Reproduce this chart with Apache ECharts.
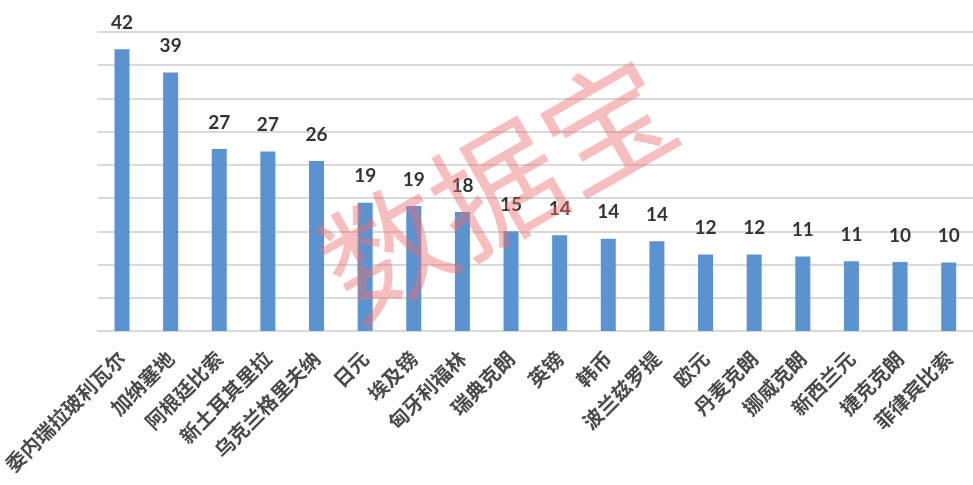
<!DOCTYPE html>
<html>
<head>
<meta charset="utf-8">
<script src="https://cdn.jsdelivr.net/npm/echarts@6/dist/echarts.min.js"></script>
<style>html,body{margin:0;padding:0;background:#fff;}#c{width:973px;height:485px;}</style>
</head>
<body>
<div id="c"></div>
<script>
const categories = ['委内瑞拉玻利瓦尔','加纳塞地','阿根廷比索','新土耳其里拉','乌克兰格里夫纳','日元','埃及镑','匈牙利福林','瑞典克朗','英镑','韩币','波兰兹罗提','欧元','丹麦克朗','挪威克朗','新西兰元','捷克克朗','菲律宾比索'];
const values = [42.4, 38.9, 27.4, 27.0, 25.6, 19.3, 18.8, 17.9, 15.0, 14.4, 13.9, 13.5, 11.5, 11.5, 11.2, 10.5, 10.4, 10.3];
const yTicks = [0, 5, 10, 15, 20, 25, 30, 35, 40, 45];

const chart = echarts.init(document.getElementById('c'));
chart.setOption({
  animation: false,
  backgroundColor: '#fff',
  grid: { left: 94, width: 887, top: 32, bottom: 154 },
  xAxis: {
    type: 'category',
    data: categories,
    axisLine: { lineStyle: { color: '#d9d9d9', width: 2 } },
    axisTick: { show: false },
    axisLabel: {
      rotate: 45, interval: 0, margin: 24,
      fontFamily: 'Noto Sans CJK SC', fontSize: 20, fontWeight: 'bold', color: '#4a4a4a'
    }
  },
  yAxis: {
    type: 'value', min: yTicks[0], max: yTicks[yTicks.length - 1], interval: 5,
    axisLabel: { show: false }, axisLine: { show: false }, axisTick: { show: false },
    splitLine: { lineStyle: { color: '#d9d9d9', width: 2 } }
  },
  series: [{
    type: 'bar', data: values, barWidth: 15,
    itemStyle: { color: '#5b93d0' },
    label: {
      show: true, position: 'top', distance: 17,
      formatter: p => Math.round(p.value),
      fontFamily: 'Lato', fontWeight: 'bold', fontSize: 19, color: '#333'
    }
  }],
  graphic: [{
    type: 'text', left: 300, top: 38, z: 100,
    rotation: 0.52,
    originX: 0, originY: 0,
    style: {
      text: '数据宝', font: '127px "Noto Sans CJK SC"',
      fill: 'rgba(235,110,110,0.45)'
    }
  }]
});
</script>
</body>
</html>
